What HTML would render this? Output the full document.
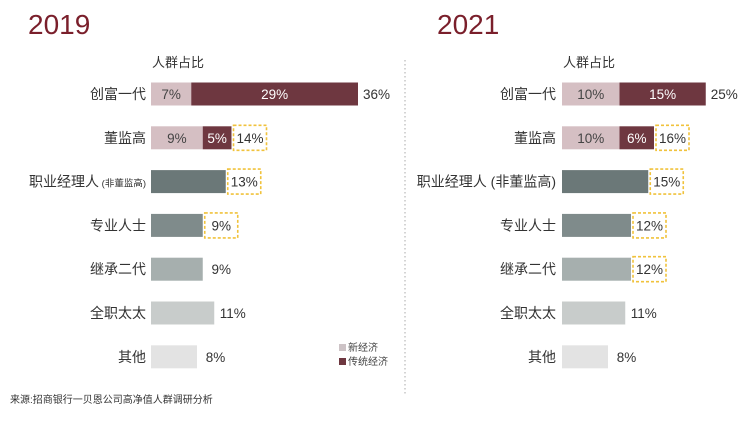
<!DOCTYPE html>
<html><head><meta charset="utf-8">
<style>
body{margin:0;background:#fff;width:756px;height:418px;overflow:hidden;font-family:"Liberation Sans","Noto Sans CJK SC",sans-serif;}
svg text{font-family:"Liberation Sans","Noto Sans CJK SC",sans-serif;}
</style></head><body>
<svg id="chart" width="756" height="418" xmlns="http://www.w3.org/2000/svg">
<text x="28" y="34" font-size="28" fill="#7a1f2b">2019</text>
<text x="437" y="34" font-size="28" fill="#7a1f2b">2021</text>
<text x="152" y="67" font-size="13" fill="#333">人群占比</text>
<text x="563" y="67" font-size="13" fill="#333">人群占比</text>
<line x1="405" y1="60" x2="405" y2="395" stroke="#aaa" stroke-dasharray="1.5,2.5"/>
<rect x="339" y="344" width="7" height="7" fill="#cdc3c6"/>
<text x="348" y="351" font-size="10" fill="#444">新经济</text>
<rect x="339" y="358" width="7" height="7" fill="#6e3740"/>
<text x="348" y="365" font-size="10" fill="#444">传统经济</text>
<text x="10" y="403" font-size="10" fill="#333">来源:招商银行一贝恩公司高净值人群调研分析</text>
<g id="bars"></g>
</svg>
<script>
const categories=["创富一代","董监高","职业经理人","专业人士","继承二代","全职太太","其他"];
const newEcon2019=[7,9,0,0,0,0,0];
const tradEcon2019=[29,5,0,0,0,0,0];
const total2019=[36,14,13,9,9,11,8];
const newEcon2021=[10,10,0,0,0,0,0];
const tradEcon2021=[15,6,0,0,0,0,0];
const total2021=[25,16,15,12,12,11,8];
const highlight2019=[false,true,true,true,false,false,false];
const highlight2021=[false,true,true,true,true,false,false];
const singleColors=["#6e3740","#6e3740","#6b7878","#7f8b8b","#a6afae","#c8cccb","#e3e3e3"];
const NS="http://www.w3.org/2000/svg";
const g=document.getElementById('bars');
const scale=5.75, rowY0=94, rowStep=43.8, barH=23;
function mk(tag,attrs){const e=document.createElementNS(NS,tag);for(const k in attrs)e.setAttribute(k,attrs[k]);g.appendChild(e);return e;}
function yPos(i){return rowY0+i*rowStep;}
function draw(x0,labelX,newV,tradV,tot,hl,yr,rightLabel){
  categories.forEach((c,i)=>{
    const cy=yPos(i);
    let lab=mk('text',{x:labelX,y:cy+5,'font-size':14,fill:'#333','text-anchor':'end'});
    
    
    if(i===2){lab.textContent='';
      const t1=document.createElementNS(NS,'tspan');t1.textContent='职业经理人';lab.appendChild(t1);
      const t2=document.createElementNS(NS,'tspan');t2.textContent=' (非董监高)';t2.setAttribute('font-size',rightLabel?14:9.5);lab.appendChild(t2);}
    else lab.textContent=c;
    let end;
    if(newV[i]>0){
      const w1=newV[i]*scale,w2=tradV[i]*scale;
      let r=mk('rect',{x:x0,y:cy-barH/2,width:w1,height:barH,fill:'#d5bfc3'});
      
      
      let r2=mk('rect',{x:x0+w1,y:cy-barH/2,width:w2,height:barH,fill:'#6e3740'});
      
      
      let t=mk('text',{x:x0+w1/2,y:cy+5,'font-size':13.5,fill:'#444','text-anchor':'middle'});
      
      
      t.textContent=newV[i]+'%';
      let t2=mk('text',{x:x0+w1+w2/2,y:cy+5,'font-size':13.5,fill:'#fff','text-anchor':'middle'});
      
      
      t2.textContent=tradV[i]+'%';
      end=x0+w1+w2;
    } else {
      const w=tot[i]*scale;
      let r=mk('rect',{x:x0,y:cy-barH/2,width:w,height:barH,fill:singleColors[i]});
      
      
      end=x0+w;
    }
    if(hl[i]){
      let b=mk('rect',{x:end+2,y:cy-12.5,width:33,height:25,fill:'none',stroke:'#f0c23c','stroke-width':1.6,'stroke-dasharray':'3,2'});
      
      
    }
    let tt=mk('text',{x:end+18.5,y:cy+5,'font-size':13.5,fill:'#333','text-anchor':'middle'});
    
    
    tt.textContent=tot[i]+'%';
  });
}
draw(151,146,newEcon2019,tradEcon2019,total2019,highlight2019,'2019',false);
draw(562,556,newEcon2021,tradEcon2021,total2021,highlight2021,'2021',true);
</script>
</body></html>
